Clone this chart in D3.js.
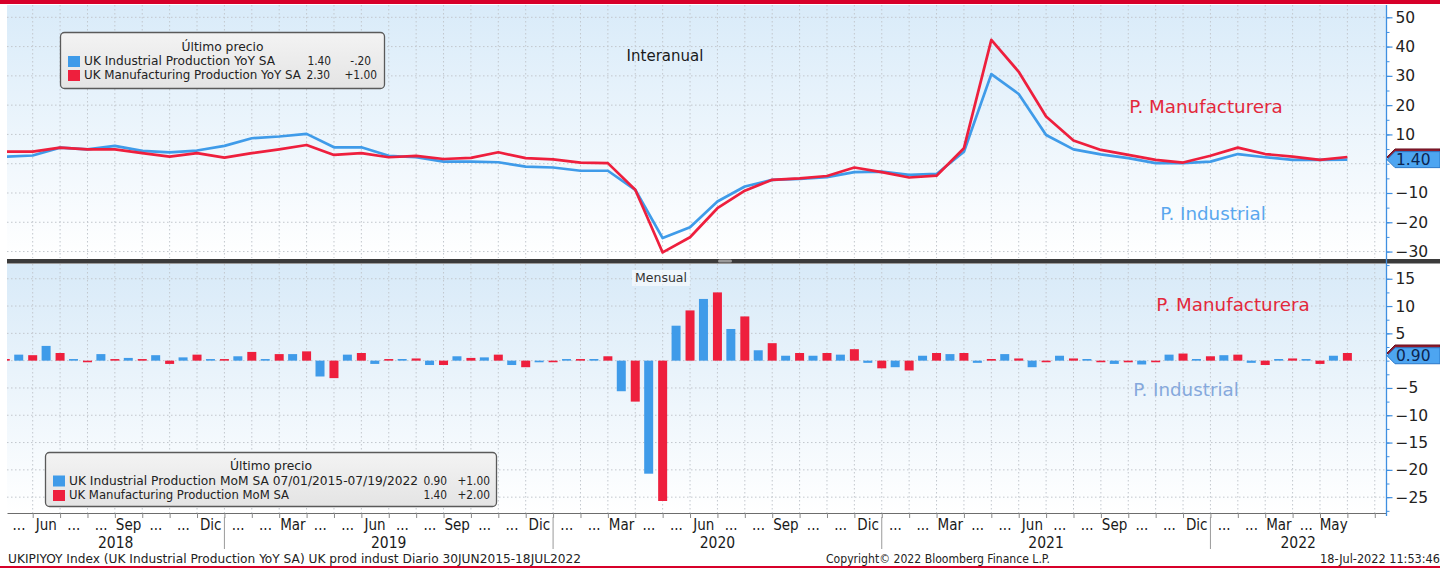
<!DOCTYPE html>
<html><head><meta charset="utf-8">
<script src="https://cdn.jsdelivr.net/npm/d3@7"></script>
<style>
body{margin:0;background:#fff;overflow:hidden}
svg{display:block}
.cond{font-family:"DejaVu Sans Condensed","DejaVu Sans",sans-serif;font-stretch:condensed}
.dv{font-family:"DejaVu Sans",sans-serif}
</style>
</head><body>
<svg id="chart" width="1440" height="568"></svg>
<script>
// ---------------- DATA ----------------
const months = ["2018-04","2018-05","2018-06","2018-07","2018-08","2018-09","2018-10","2018-11","2018-12",
"2019-01","2019-02","2019-03","2019-04","2019-05","2019-06","2019-07","2019-08","2019-09","2019-10","2019-11","2019-12",
"2020-01","2020-02","2020-03","2020-04","2020-05","2020-06","2020-07","2020-08","2020-09","2020-10","2020-11","2020-12",
"2021-01","2021-02","2021-03","2021-04","2021-05","2021-06","2021-07","2021-08","2021-09","2021-10","2021-11","2021-12",
"2022-01","2022-02","2022-03","2022-04","2022-05"];
const yoyIndustrial = [2.4,2.8,5.5,4.9,6.1,4.4,3.9,4.5,6.1,8.7,9.3,10.2,5.6,5.6,2.7,2.2,0.7,0.7,0.5,-1.0,-1.3,-2.4,-2.4,-8.9,-25.4,-21.7,-12.9,-7.8,-5.5,-5.2,-4.6,-2.9,-2.7,-3.8,-3.5,4.1,30.6,23.8,9.8,4.9,3.2,1.9,0.2,0.2,0.7,3.3,2.2,1.3,1.3,1.4];
const yoyManufacturing = [4.1,4.1,5.5,4.9,4.9,3.6,2.4,3.6,2.1,3.6,4.9,6.4,3.0,3.6,2.2,2.7,1.6,2.0,3.9,1.9,1.5,0.4,0.2,-8.9,-30.3,-25.1,-15.2,-9.2,-5.5,-5.0,-4.2,-1.3,-2.9,-4.7,-4.1,5.3,42.3,31.4,16.1,7.9,4.7,3.0,1.3,0.4,2.7,5.5,3.3,2.4,1.3,2.3];
const momIndustrial = [0.1,1.1,2.7,0.1,1.2,0.5,1.0,0.6,0.1,0.8,0.1,1.2,-2.9,1.1,-0.6,0.3,-0.8,0.8,0.6,-0.8,-0.3,0.1,0.3,-5.6,-20.7,6.4,11.3,5.8,1.9,0.9,0.9,1.1,-0.4,-1.2,0.9,1.2,-0.4,1.2,-1.2,0.9,0.3,-0.6,-0.7,1.1,0.3,1.0,-0.4,0.3,0.1,0.9];
const momManufacturing = [0.3,1.0,1.4,-0.2,0.1,0.1,-0.6,1.1,0.2,1.6,1.2,1.7,-3.2,1.4,0.1,0.4,-0.8,0.5,1.1,-1.2,-0.1,0.2,0.8,-7.5,-25.7,9.2,12.5,8.1,3.2,1.4,1.4,2.1,-1.4,-1.8,1.4,1.4,0.3,0.4,-0.2,0.4,-0.1,-0.3,-0.1,1.3,0.8,1.1,-0.8,0.4,-0.6,1.4];
const monthAbbr = ["Ene","Feb","Mar","Abr","May","Jun","Jul","Ago","Sep","Oct","Nov","Dic"];
const labeledMonths = ["Mar","Jun","Sep","Dic"];
const yoyTicks = [50,40,30,20,10,-10,-20,-30];
const yoyGrid = [50,40,30,20,10,0,-10,-20,-30];
const momTicks = [15,10,5,-5,-10,-15,-20,-25];
const momGrid = [15,10,5,0,-5,-10,-15,-20,-25];
const legendTop = {title:"Último precio", rows:[
  {name:"UK Industrial Production YoY SA", last:"1.40", chg:"-.20"},
  {name:"UK Manufacturing Production YoY SA", last:"2.30", chg:"+1.00"}]};
const legendBot = {title:"Último precio", rows:[
  {name:"UK Industrial Production MoM SA 07/01/2015-07/19/2022", last:"0.90", chg:"+1.00"},
  {name:"UK Manufacturing Production MoM SA", last:"1.40", chg:"+2.00"}]};

// ---------------- LAYOUT ----------------
const BLUE="#3f9be9", RED="#ee1f3d";
const svg = d3.select("#chart");
const plotL=7, plotR=1386;
const top0=5, top1=258, bot0=264, bot1=513;
const x = d3.scaleLinear().domain([0.062, 50.41]).range([plotL, plotR]);
const yTop = d3.scaleLinear().domain([-32.2, 54.2]).range([top1, top0]);
const yBot = d3.scaleLinear().domain([-27.9, 17.7]).range([bot1, bot0]);
const idx = months.map((m,i)=>i);

const defs = svg.append("defs");
const g1 = defs.append("linearGradient").attr("id","bgTop").attr("x1",0).attr("y1",0).attr("x2",0).attr("y2",1);
g1.append("stop").attr("offset","0%").attr("stop-color","#d9ebf9");
g1.append("stop").attr("offset","100%").attr("stop-color","#ffffff");
const g2 = defs.append("linearGradient").attr("id","bgBot").attr("x1",0).attr("y1",0).attr("x2",0).attr("y2",1);
g2.append("stop").attr("offset","0%").attr("stop-color","#d8eaf8");
g2.append("stop").attr("offset","100%").attr("stop-color","#ffffff");
const g3 = defs.append("linearGradient").attr("id","legBg").attr("x1",0).attr("y1",0).attr("x2",0).attr("y2",1);
g3.append("stop").attr("offset","0%").attr("stop-color","#f3f3f3");
g3.append("stop").attr("offset","100%").attr("stop-color","#e4e4e4");
defs.append("clipPath").attr("id","clipTop").append("rect").attr("x",plotL).attr("y",top0).attr("width",plotR-plotL).attr("height",top1-top0);
defs.append("clipPath").attr("id","clipBot").append("rect").attr("x",plotL).attr("y",bot0).attr("width",plotR-plotL).attr("height",bot1-bot0);

// red frame bands
svg.append("rect").attr("x",0).attr("y",0).attr("width",1440).attr("height",4).attr("fill","#d7002a");
svg.append("rect").attr("x",0).attr("y",566).attr("width",1440).attr("height",2).attr("fill","#d7002a");

// panel backgrounds
svg.append("rect").attr("x",plotL).attr("y",top0).attr("width",plotR-plotL).attr("height",top1-top0).attr("fill","url(#bgTop)");
svg.append("rect").attr("x",plotL).attr("y",bot0).attr("width",plotR-plotL).attr("height",bot1-bot0).attr("fill","url(#bgBot)");

// grids
const gridCol="#c2c7cd";
const vIdx = d3.range(0,51).filter(j=>x(j)>plotL+1 && x(j)<plotR-1);
[[top0,top1],[bot0,bot1]].forEach(([a,b])=>{
  svg.append("g").selectAll("line").data(vIdx).join("line")
    .attr("x1",d=>x(d)).attr("x2",d=>x(d)).attr("y1",a).attr("y2",b)
    .attr("stroke",gridCol).attr("stroke-dasharray","1.5,2.5");
});
svg.append("g").selectAll("line").data(yoyGrid).join("line")
  .attr("x1",plotL).attr("x2",plotR).attr("y1",d=>yTop(d)).attr("y2",d=>yTop(d))
  .attr("stroke",gridCol).attr("stroke-dasharray","1.5,2.5");
svg.append("g").selectAll("line").data(momGrid).join("line")
  .attr("x1",plotL).attr("x2",plotR).attr("y1",d=>yBot(d)).attr("y2",d=>yBot(d))
  .attr("stroke",gridCol).attr("stroke-dasharray","1.5,2.5");

// lines (YoY)
const line = (arr)=>d3.line().x((d,i)=>x(i)).y(d=>yTop(d))(arr);
const lg = svg.append("g").attr("clip-path","url(#clipTop)");
lg.append("path").attr("d",line(yoyIndustrial)).attr("fill","none").attr("stroke",BLUE).attr("stroke-width",2.7).attr("stroke-linejoin","round");
lg.append("path").attr("d",line(yoyManufacturing)).attr("fill","none").attr("stroke",RED).attr("stroke-width",2.7).attr("stroke-linejoin","round");

// bars (MoM)
const step = x(1)-x(0);
const bw = 9;
const bg = svg.append("g").attr("clip-path","url(#clipBot)");
function barH(v){ return Math.max(1.6, Math.abs(yBot(v)-yBot(0))); }
bg.selectAll("rect.bi").data(momIndustrial).join("rect").attr("class","bi")
  .attr("x",(d,i)=>x(i)-step*0.51-bw/2).attr("width",bw)
  .attr("y",d=>d>=0? yBot(0)-barH(d): yBot(0)).attr("height",d=>barH(d)).attr("fill",BLUE);
bg.selectAll("rect.bm").data(momManufacturing).join("rect").attr("class","bm")
  .attr("x",(d,i)=>x(i)-bw/2).attr("width",bw)
  .attr("y",d=>d>=0? yBot(0)-barH(d): yBot(0)).attr("height",d=>barH(d)).attr("fill",RED);

// divider between panels
svg.append("rect").attr("x",plotL).attr("y",259).attr("width",1440-plotL).attr("height",4.5).attr("fill","#3b3b3b");
svg.append("rect").attr("x",718).attr("y",259.5).attr("width",14).attr("height",3).attr("rx",1.5).attr("fill","#9a9a9a");

// bottom axis (x)
const xAxis = d3.axisBottom(x).tickValues(vIdx).tickSize(5).tickSizeOuter(0).tickFormat("");
const xg = svg.append("g").attr("transform",`translate(0,${bot1})`).call(xAxis);
xg.select(".domain").attr("stroke","#6d6d6d");
xg.selectAll(".tick line").attr("stroke","#8a8a8a");

// month labels
const monthLab = idx.filter(i=>i>=1).map(i=>{
  const mo = +months[i].slice(5,7)-1;
  const nm = monthAbbr[mo];
  const show = labeledMonths.includes(nm) || i===months.length-1;
  return {i, t: show? nm : "..."};
});
svg.append("g").selectAll("text").data(monthLab).join("text").attr("class","cond")
  .attr("x",d=>x(d.i-0.5)).attr("y",525).attr("text-anchor","middle").attr("dominant-baseline","middle")
  .attr("font-size",15).attr("fill","#1a1a1a").text(d=>d.t);

// year separators and labels
const decIdx = idx.filter(i=>months[i].endsWith("-12"));
svg.append("g").selectAll("line").data(decIdx).join("line")
  .attr("x1",d=>x(d)).attr("x2",d=>x(d)).attr("y1",517).attr("y2",549).attr("stroke","#9a9a9a");
const years = Array.from(new Set(months.map(m=>m.slice(0,4))));
const yearPos = years.map(yr=>{
  const ii = idx.filter(i=>months[i].startsWith(yr));
  const prevDec = ii[0]-1;
  const a = Math.max(x.range()[0], x(prevDec));
  const lastDec = months[ii[ii.length-1]].endsWith("-12");
  const b = lastDec ? x(ii[ii.length-1]) : x.range()[1];
  return {yr, cx:(a+b)/2};
});
svg.append("g").selectAll("text").data(yearPos).join("text").attr("class","cond")
  .attr("x",d=>d.cx).attr("y",543).attr("text-anchor","middle").attr("dominant-baseline","middle")
  .attr("font-size",15.5).attr("fill","#1a1a1a").text(d=>d.yr);

// right axes
function rightAxis(scale, major, minor){
  const g = svg.append("g").attr("transform",`translate(${plotR+0.5},0)`);
  g.call(d3.axisRight(scale).tickValues(minor).tickSize(3).tickSizeOuter(0).tickFormat(""));
  g.call(gg=>gg.select(".domain").remove());
  const g2 = svg.append("g").attr("transform",`translate(${plotR+0.5},0)`);
  g2.call(d3.axisRight(scale).tickValues(major).tickSize(6).tickPadding(3).tickSizeOuter(0).tickFormat(d3.format("d")));
  g2.select(".domain").remove();
  g2.selectAll("text").attr("font-size",15.5).attr("fill","#222").attr("font-family","DejaVu Sans");
  g.selectAll(".tick line").attr("stroke","#3f8fe0");
  g2.selectAll(".tick line").attr("stroke","#3f8fe0").attr("stroke-width",1.2);
}
rightAxis(yTop, yoyTicks, d3.range(-30,55,5));
rightAxis(yBot, momTicks, d3.range(-27.5,17.6,2.5));
svg.append("line").attr("x1",plotR+0.5).attr("x2",plotR+0.5).attr("y1",top0).attr("y2",bot1+3).attr("stroke","#3f8fe0").attr("stroke-width",1.3);

// value flags
function flag(yv, fill, stroke, txt){
  const h=16, tip=plotR+1, bx=plotR+9;
  svg.append("path").attr("d",`M${tip},${yv} L${bx},${yv-h/2} L1440,${yv-h/2} L1440,${yv+h/2} L${bx},${yv+h/2} Z`)
    .attr("fill",fill).attr("stroke",stroke).attr("stroke-width",1);
  if(txt) svg.append("text").attr("class","dv").attr("x",bx+1).attr("y",yv+0.5).attr("dominant-baseline","middle")
    .attr("font-size",15.5).attr("fill","#0e2550").text(txt);
}
flag(yTop(yoyManufacturing[49]),"#8e1b2c","#6a1020",null);
flag(yTop(yoyIndustrial[49]),"#4da5f1","#2a78c8",d3.format(".2f")(yoyIndustrial[49]));
flag(yBot(momManufacturing[49]),"#8e1b2c","#6a1020",null);
flag(yBot(momIndustrial[49]),"#4da5f1","#2a78c8",d3.format(".2f")(momIndustrial[49]));

// annotations
function txt(t,xx,yy,size,col,anchor="middle"){
  svg.append("text").attr("class","dv").attr("x",xx).attr("y",yy).attr("text-anchor",anchor)
    .attr("dominant-baseline","middle").attr("font-size",size).attr("fill",col).text(t);
}
txt("Interanual",665,56,15,"#1a1a1a");
txt("P. Manufacturera",1206,108,18.3,"#e3283c");
txt("P. Industrial",1213,215,18.3,"#5aa7ee");
svg.append("rect").attr("x",632).attr("y",270).attr("width",58).attr("height",16).attr("fill","#ffffff").attr("opacity",0.55);
txt("Mensual",661,278,12.5,"#333");
txt("P. Manufacturera",1233,306,18.3,"#e3283c");
txt("P. Industrial",1186,391,18.3,"#85a8dc");

// legends
function legend(L, bx, by, bwid, bh, nameW, lastX, chgX, rowY, titleY, sqX){
  svg.append("rect").attr("x",bx).attr("y",by).attr("width",bwid).attr("height",bh).attr("rx",4)
    .attr("fill","url(#legBg)").attr("stroke","#5a5a5a").attr("stroke-width",1.3);
  svg.append("text").attr("class","dv").attr("x",bx+bwid/2).attr("y",titleY).attr("text-anchor","middle")
    .attr("dominant-baseline","middle").attr("font-size",12.3).attr("fill","#222").text(L.title);
  const cols=[BLUE,RED];
  L.rows.forEach((r,k)=>{
    const yy=rowY[k];
    svg.append("rect").attr("x",sqX).attr("y",yy-5.5).attr("width",12).attr("height",11).attr("fill",cols[k]);
    svg.append("text").attr("class","dv").attr("x",sqX+16).attr("y",yy).attr("dominant-baseline","middle")
      .attr("font-size",12).attr("fill","#222").attr("textLength",nameW[k]).attr("lengthAdjust","spacingAndGlyphs").text(r.name);
    svg.append("text").attr("class","cond").attr("x",lastX[k]).attr("y",yy).attr("text-anchor","end").attr("dominant-baseline","middle")
      .attr("font-size",11.8).attr("fill","#222").text(r.last);
    svg.append("text").attr("class","cond").attr("x",chgX[k]).attr("y",yy).attr("text-anchor","end").attr("dominant-baseline","middle")
      .attr("font-size",11.8).attr("fill","#222").text(r.chg);
  });
}
legend(legendTop, 60.5, 32.5, 324, 56, [191,217], [331,330], [371,377], [61.5,75.5], 47.5, 68);
legend(legendBot, 45.5, 452.5, 451, 54, [349,220], [447,447], [490,490], [481,495.5], 466, 53);

// footer
svg.append("text").attr("class","cond").attr("x",8).attr("y",559).attr("dominant-baseline","middle")
  .attr("font-size",11.5).attr("fill","#222").attr("textLength",573).attr("lengthAdjust","spacingAndGlyphs")
  .text("UKIPIYOY Index (UK Industrial Production YoY SA) UK prod indust  Diario 30JUN2015-18JUL2022");
svg.append("text").attr("class","cond").attr("x",826).attr("y",559).attr("dominant-baseline","middle")
  .attr("font-size",11.5).attr("fill","#222").attr("textLength",224).attr("lengthAdjust","spacingAndGlyphs")
  .text("Copyright© 2022 Bloomberg Finance L.P.");
svg.append("text").attr("class","cond").attr("x",1320).attr("y",559).attr("dominant-baseline","middle")
  .attr("font-size",11.5).attr("fill","#222").attr("textLength",120).attr("lengthAdjust","spacingAndGlyphs")
  .text("18-Jul-2022 11:53:46");
</script>
</body></html>
